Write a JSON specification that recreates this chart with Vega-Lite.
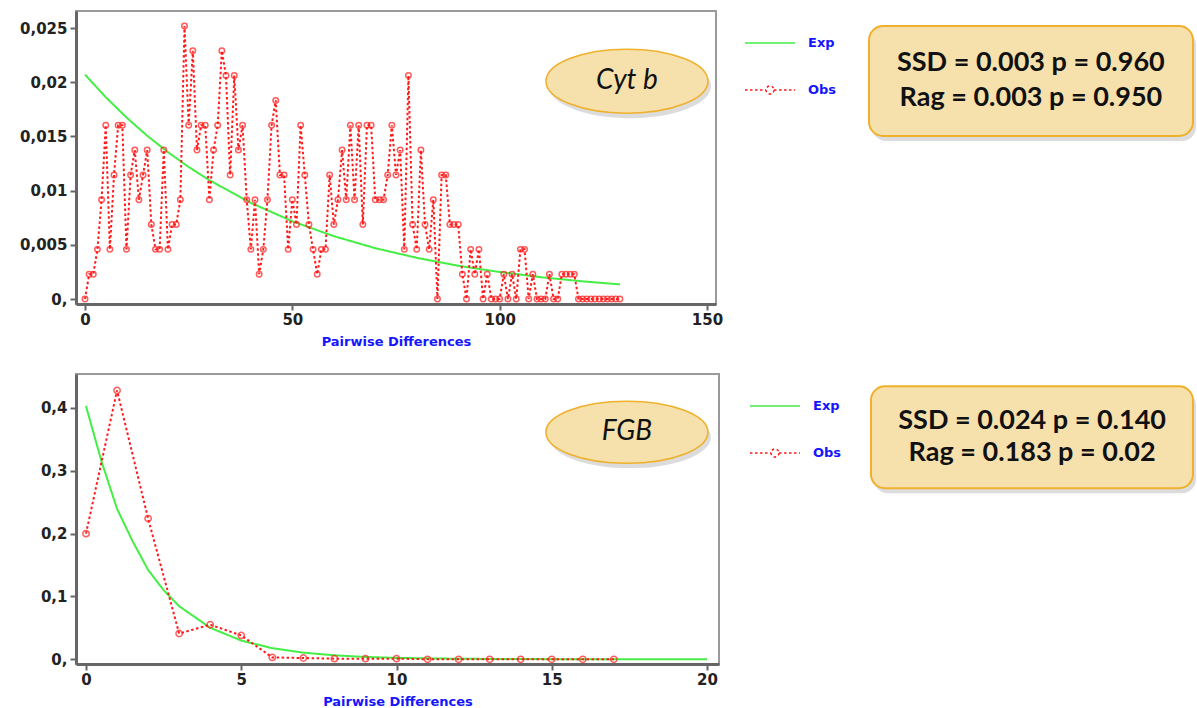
{
  "$schema": "https://vega.github.io/schema/vega-lite/v6.json",
  "padding": {"left": 5, "top": 10, "right": 0, "bottom": 0},
  "bounds": "flush",
  "spacing": 70,
  "background": "white",
  "config": {
    "view": {"stroke": "#9a9a9a", "strokeWidth": 2},
    "axis": {"grid": false, "labelFont": "DejaVu Sans", "labelFontWeight": "bold", "labelFontSize": 15, "labelColor": "#222222", "domainColor": "#666666", "domainWidth": 3, "tickColor": "#666666", "tickWidth": 2, "tickSize": 6, "titleFont": "DejaVu Sans", "titleFontWeight": "bold", "titleFontSize": 13, "titleColor": "#1515ff"},
    "axisY": {"minExtent": 70, "maxExtent": 70, "labelPadding": 3},
    "axisX": {"labelPadding": 2, "titlePadding": 8}
  },
  "resolve": {"scale": {"color": "independent", "strokeDash": "independent", "x": "independent", "y": "independent"}, "legend": {"color": "independent", "strokeDash": "independent"}},
  "datasets": {
    "cytb": [
      {"x":0,"y":0.0207,"series":"Exp"},{"x":5,"y":0.01862,"series":"Exp"},{"x":10,"y":0.01675,"series":"Exp"},{"x":15,"y":0.01506,"series":"Exp"},{"x":20,"y":0.01355,"series":"Exp"},{"x":25,"y":0.01218,"series":"Exp"},{"x":30,"y":0.01096,"series":"Exp"},{"x":40,"y":0.00887,"series":"Exp"},{"x":50,"y":0.00717,"series":"Exp"},{"x":60,"y":0.0058,"series":"Exp"},{"x":70,"y":0.00469,"series":"Exp"},{"x":80,"y":0.0038,"series":"Exp"},{"x":90,"y":0.00307,"series":"Exp"},{"x":100,"y":0.00249,"series":"Exp"},{"x":110,"y":0.00201,"series":"Exp"},{"x":120,"y":0.00163,"series":"Exp"},{"x":129,"y":0.00135,"series":"Exp"},
      {"x":0,"y":0,"series":"Obs"},{"x":1,"y":0.00229,"series":"Obs"},{"x":2,"y":0.00229,"series":"Obs"},{"x":3,"y":0.00458,"series":"Obs"},{"x":4,"y":0.00916,"series":"Obs"},{"x":5,"y":0.01603,"series":"Obs"},{"x":6,"y":0.00458,"series":"Obs"},{"x":7,"y":0.01145,"series":"Obs"},{"x":8,"y":0.01603,"series":"Obs"},{"x":9,"y":0.01603,"series":"Obs"},
      {"x":10,"y":0.00458,"series":"Obs"},{"x":11,"y":0.01145,"series":"Obs"},{"x":12,"y":0.01374,"series":"Obs"},{"x":13,"y":0.00916,"series":"Obs"},{"x":14,"y":0.01145,"series":"Obs"},{"x":15,"y":0.01374,"series":"Obs"},{"x":16,"y":0.00687,"series":"Obs"},{"x":17,"y":0.00458,"series":"Obs"},{"x":18,"y":0.00458,"series":"Obs"},{"x":19,"y":0.01374,"series":"Obs"},
      {"x":20,"y":0.00458,"series":"Obs"},{"x":21,"y":0.00687,"series":"Obs"},{"x":22,"y":0.00687,"series":"Obs"},{"x":23,"y":0.00916,"series":"Obs"},{"x":24,"y":0.02519,"series":"Obs"},{"x":25,"y":0.01603,"series":"Obs"},{"x":26,"y":0.0229,"series":"Obs"},{"x":27,"y":0.01374,"series":"Obs"},{"x":28,"y":0.01603,"series":"Obs"},{"x":29,"y":0.01603,"series":"Obs"},
      {"x":30,"y":0.00916,"series":"Obs"},{"x":31,"y":0.01374,"series":"Obs"},{"x":32,"y":0.01603,"series":"Obs"},{"x":33,"y":0.0229,"series":"Obs"},{"x":34,"y":0.02061,"series":"Obs"},{"x":35,"y":0.01145,"series":"Obs"},{"x":36,"y":0.02061,"series":"Obs"},{"x":37,"y":0.01374,"series":"Obs"},{"x":38,"y":0.01603,"series":"Obs"},{"x":39,"y":0.00916,"series":"Obs"},
      {"x":40,"y":0.00458,"series":"Obs"},{"x":41,"y":0.00916,"series":"Obs"},{"x":42,"y":0.00229,"series":"Obs"},{"x":43,"y":0.00458,"series":"Obs"},{"x":44,"y":0.00916,"series":"Obs"},{"x":45,"y":0.01603,"series":"Obs"},{"x":46,"y":0.01832,"series":"Obs"},{"x":47,"y":0.01145,"series":"Obs"},{"x":48,"y":0.01145,"series":"Obs"},{"x":49,"y":0.00458,"series":"Obs"},
      {"x":50,"y":0.00916,"series":"Obs"},{"x":51,"y":0.00687,"series":"Obs"},{"x":52,"y":0.01603,"series":"Obs"},{"x":53,"y":0.01145,"series":"Obs"},{"x":54,"y":0.00687,"series":"Obs"},{"x":55,"y":0.00458,"series":"Obs"},{"x":56,"y":0.00229,"series":"Obs"},{"x":57,"y":0.00458,"series":"Obs"},{"x":58,"y":0.00458,"series":"Obs"},{"x":59,"y":0.01145,"series":"Obs"},
      {"x":60,"y":0.00687,"series":"Obs"},{"x":61,"y":0.00916,"series":"Obs"},{"x":62,"y":0.01374,"series":"Obs"},{"x":63,"y":0.00916,"series":"Obs"},{"x":64,"y":0.01603,"series":"Obs"},{"x":65,"y":0.00916,"series":"Obs"},{"x":66,"y":0.01603,"series":"Obs"},{"x":67,"y":0.00687,"series":"Obs"},{"x":68,"y":0.01603,"series":"Obs"},{"x":69,"y":0.01603,"series":"Obs"},
      {"x":70,"y":0.00916,"series":"Obs"},{"x":71,"y":0.00916,"series":"Obs"},{"x":72,"y":0.00916,"series":"Obs"},{"x":73,"y":0.01145,"series":"Obs"},{"x":74,"y":0.01603,"series":"Obs"},{"x":75,"y":0.01145,"series":"Obs"},{"x":76,"y":0.01374,"series":"Obs"},{"x":77,"y":0.00458,"series":"Obs"},{"x":78,"y":0.02061,"series":"Obs"},{"x":79,"y":0.00687,"series":"Obs"},
      {"x":80,"y":0.00458,"series":"Obs"},{"x":81,"y":0.01374,"series":"Obs"},{"x":82,"y":0.00687,"series":"Obs"},{"x":83,"y":0.00458,"series":"Obs"},{"x":84,"y":0.00916,"series":"Obs"},{"x":85,"y":0,"series":"Obs"},{"x":86,"y":0.01145,"series":"Obs"},{"x":87,"y":0.01145,"series":"Obs"},{"x":88,"y":0.00687,"series":"Obs"},{"x":89,"y":0.00687,"series":"Obs"},
      {"x":90,"y":0.00687,"series":"Obs"},{"x":91,"y":0.00229,"series":"Obs"},{"x":92,"y":0,"series":"Obs"},{"x":93,"y":0.00458,"series":"Obs"},{"x":94,"y":0.00229,"series":"Obs"},{"x":95,"y":0.00458,"series":"Obs"},{"x":96,"y":0,"series":"Obs"},{"x":97,"y":0.00229,"series":"Obs"},{"x":98,"y":0,"series":"Obs"},{"x":99,"y":0,"series":"Obs"},
      {"x":100,"y":0,"series":"Obs"},{"x":101,"y":0.00229,"series":"Obs"},{"x":102,"y":0,"series":"Obs"},{"x":103,"y":0.00229,"series":"Obs"},{"x":104,"y":0,"series":"Obs"},{"x":105,"y":0.00458,"series":"Obs"},{"x":106,"y":0.00458,"series":"Obs"},{"x":107,"y":0,"series":"Obs"},{"x":108,"y":0.00229,"series":"Obs"},{"x":109,"y":0,"series":"Obs"},
      {"x":110,"y":0,"series":"Obs"},{"x":111,"y":0,"series":"Obs"},{"x":112,"y":0.00229,"series":"Obs"},{"x":113,"y":0,"series":"Obs"},{"x":114,"y":0,"series":"Obs"},{"x":115,"y":0.00229,"series":"Obs"},{"x":116,"y":0.00229,"series":"Obs"},{"x":117,"y":0.00229,"series":"Obs"},{"x":118,"y":0.00229,"series":"Obs"},{"x":119,"y":0,"series":"Obs"},
      {"x":120,"y":0,"series":"Obs"},{"x":121,"y":0,"series":"Obs"},{"x":122,"y":0,"series":"Obs"},{"x":123,"y":0,"series":"Obs"},{"x":124,"y":0,"series":"Obs"},{"x":125,"y":0,"series":"Obs"},{"x":126,"y":0,"series":"Obs"},{"x":127,"y":0,"series":"Obs"},{"x":128,"y":0,"series":"Obs"},{"x":129,"y":0,"series":"Obs"}
    ],
    "fgb": [
      {"x":0,"y":0.403,"series":"Exp"},{"x":0.5,"y":0.315,"series":"Exp"},{"x":1,"y":0.2395,"series":"Exp"},{"x":1.5,"y":0.188,"series":"Exp"},{"x":2,"y":0.1423,"series":"Exp"},{"x":2.5,"y":0.11,"series":"Exp"},{"x":3,"y":0.0845,"series":"Exp"},{"x":4,"y":0.0502,"series":"Exp"},{"x":5,"y":0.0298,"series":"Exp"},{"x":6,"y":0.0177,"series":"Exp"},{"x":7,"y":0.0106,"series":"Exp"},{"x":8,"y":0.0063,"series":"Exp"},{"x":9,"y":0.0037,"series":"Exp"},{"x":10,"y":0.0022,"series":"Exp"},{"x":12,"y":0.0008,"series":"Exp"},{"x":15,"y":0.0002,"series":"Exp"},{"x":20,"y":0,"series":"Exp"},
      {"x":0,"y":0.2,"series":"Obs"},{"x":1,"y":0.428,"series":"Obs"},{"x":2,"y":0.224,"series":"Obs"},{"x":3,"y":0.041,"series":"Obs"},{"x":4,"y":0.055,"series":"Obs"},{"x":5,"y":0.038,"series":"Obs"},{"x":6,"y":0.003,"series":"Obs"},{"x":7,"y":0.002,"series":"Obs"},{"x":8,"y":0.001,"series":"Obs"},{"x":9,"y":0.001,"series":"Obs"},{"x":10,"y":0.001,"series":"Obs"},{"x":11,"y":0,"series":"Obs"},{"x":12,"y":0,"series":"Obs"},{"x":13,"y":0,"series":"Obs"},{"x":14,"y":0,"series":"Obs"},{"x":15,"y":0,"series":"Obs"},{"x":16,"y":0,"series":"Obs"},{"x":17,"y":0,"series":"Obs"}
    ]
  },
  "vconcat": [
    {
      "width": 640, "height": 293,
      "data": {"name": "cytb"},
      "layer": [
        {
          "mark": {"type": "line", "strokeWidth": 2},
          "encoding": {
            "x": {"field": "x", "type": "quantitative", "scale": {"domain": [-2.17, 152.17], "nice": false, "zero": false}, "axis": {"values": [0, 50, 100, 150], "title": "Pairwise Differences"}},
            "y": {"field": "y", "type": "quantitative", "scale": {"domain": [-0.00046, 0.02657], "nice": false, "zero": false}, "axis": {"values": [0, 0.005, 0.01, 0.015, 0.02, 0.025], "title": null, "labelExpr": "datum.value == 0 ? '0,' : replace(format(datum.value, '~g'), '.', ',')"}},
            "color": {"field": "series", "type": "nominal", "scale": {"domain": ["Exp", "Obs"], "range": ["#44ee44", "#ff1a1a"]},
              "legend": {"orient": "none", "legendX": 668, "legendY": 6, "title": null, "symbolType": "stroke", "symbolSize": 2500, "symbolStrokeWidth": 1.5, "labelFont": "DejaVu Sans", "labelFontWeight": "bold", "labelFontSize": 13, "labelColor": "#1515ff", "rowPadding": 14, "labelOffset": 12, "padding": 0,
                "encode": {"symbols": {"update": {"shape": {"signal": "datum.value === 'Obs' ? 'M-1,0H-0.16M0.16,0H1M0.16,0A0.16,0.16,0,1,1,-0.16,0A0.16,0.16,0,1,1,0.16,0' : 'stroke'"}}}}}},
            "strokeDash": {"field": "series", "type": "nominal", "scale": {"domain": ["Exp", "Obs"], "range": [[1, 0], [2.5, 2.5]]},
              "legend": {"orient": "none", "legendX": 668, "legendY": 6, "title": null, "symbolType": "stroke", "symbolSize": 2500, "symbolStrokeWidth": 1.5, "labelFont": "DejaVu Sans", "labelFontWeight": "bold", "labelFontSize": 13, "labelColor": "#1515ff", "rowPadding": 14, "labelOffset": 12, "padding": 0}}
          }
        },
        {
          "transform": [{"filter": "datum.series == 'Obs'"}],
          "mark": {"type": "point", "shape": "circle", "filled": false, "color": "#ff1a1a", "size": 30, "strokeWidth": 1.5},
          "encoding": {"x": {"field": "x", "type": "quantitative"}, "y": {"field": "y", "type": "quantitative"}}
        },
        {
          "data": {"values": [{}]},
          "mark": {"type": "point", "shape": "M-1,0A1,0.395,0,1,1,1,0A1,0.395,0,1,1,-1,0Z", "size": 26244, "filled": true, "fill": "#9a9a9a", "opacity": 0.35, "strokeWidth": 0, "xOffset": 3, "yOffset": 5},
          "encoding": {"x": {"datum": 130.7}, "y": {"datum": 0.0201}}
        },
        {
          "data": {"values": [{}]},
          "mark": {"type": "point", "shape": "M-1,0A1,0.395,0,1,1,1,0A1,0.395,0,1,1,-1,0Z", "size": 26244, "filled": true, "fill": "#f6e1ad", "stroke": "#efb02c", "strokeWidth": 1.5, "opacity": 1},
          "encoding": {"x": {"datum": 130.7}, "y": {"datum": 0.0201}}
        },
        {
          "data": {"values": [{"t": "Cyt b"}]},
          "mark": {"type": "text", "font": "Lato", "fontStyle": "italic", "fontSize": 28, "color": "#111111", "align": "center", "baseline": "middle"},
          "encoding": {"x": {"datum": 130.7}, "y": {"datum": 0.0201}, "text": {"field": "t"}}
        },
        {
          "data": {"values": [{}]},
          "mark": {"type": "rect", "fill": "#9a9a9a", "opacity": 0.35, "cornerRadius": 14, "clip": false, "xOffset": 3, "yOffset": 5, "x2Offset": 3, "y2Offset": 5},
          "encoding": {"x": {"datum": 189.07}, "x2": {"datum": 267.2}, "y": {"datum": 0.025185}, "y2": {"datum": 0.015037}}
        },
        {
          "data": {"values": [{}]},
          "mark": {"type": "rect", "fill": "#f6e1ad", "stroke": "#efb02c", "strokeWidth": 2, "cornerRadius": 14, "clip": false},
          "encoding": {"x": {"datum": 189.07}, "x2": {"datum": 267.2}, "y": {"datum": 0.025185}, "y2": {"datum": 0.015037}}
        },
        {
          "data": {"values": [{"t": "SSD = 0.003 p = 0.960"}]},
          "mark": {"type": "text", "font": "Lato", "fontWeight": "bold", "fontSize": 27, "color": "#111111", "align": "center", "baseline": "middle", "clip": false},
          "encoding": {"x": {"datum": 228.1}, "y": {"datum": 0.02177}, "text": {"field": "t"}}
        },
        {
          "data": {"values": [{"t": "Rag = 0.003 p = 0.950"}]},
          "mark": {"type": "text", "font": "Lato", "fontWeight": "bold", "fontSize": 27, "color": "#111111", "align": "center", "baseline": "middle", "clip": false},
          "encoding": {"x": {"datum": 228.1}, "y": {"datum": 0.01854}, "text": {"field": "t"}}
        }
      ]
    },
    {
      "width": 643, "height": 290,
      "data": {"name": "fgb"},
      "layer": [
        {
          "mark": {"type": "line", "strokeWidth": 2},
          "encoding": {
            "x": {"field": "x", "type": "quantitative", "scale": {"domain": [-0.322, 20.386], "nice": false, "zero": false}, "axis": {"values": [0, 5, 10, 15, 20], "title": "Pairwise Differences"}},
            "y": {"field": "y", "type": "quantitative", "scale": {"domain": [-0.0075, 0.4541], "nice": false, "zero": false}, "axis": {"values": [0, 0.05, 0.1, 0.15, 0.2, 0.25, 0.3, 0.35, 0.4, 0.45], "title": null, "labelExpr": "abs(datum.value * 10 - round(datum.value * 10)) > 0.01 ? '' : (datum.value == 0 ? '0,' : replace(format(datum.value, '~g'), '.', ','))"}},
            "color": {"field": "series", "type": "nominal", "scale": {"domain": ["Exp", "Obs"], "range": ["#44ee44", "#ff1a1a"]},
              "legend": {"orient": "none", "legendX": 673, "legendY": 6, "title": null, "symbolType": "stroke", "symbolSize": 2500, "symbolStrokeWidth": 1.5, "labelFont": "DejaVu Sans", "labelFontWeight": "bold", "labelFontSize": 13, "labelColor": "#1515ff", "rowPadding": 14, "labelOffset": 12, "padding": 0,
                "encode": {"symbols": {"update": {"shape": {"signal": "datum.value === 'Obs' ? 'M-1,0H-0.16M0.16,0H1M0.16,0A0.16,0.16,0,1,1,-0.16,0A0.16,0.16,0,1,1,0.16,0' : 'stroke'"}}}}}},
            "strokeDash": {"field": "series", "type": "nominal", "scale": {"domain": ["Exp", "Obs"], "range": [[1, 0], [2.5, 2.5]]},
              "legend": {"orient": "none", "legendX": 673, "legendY": 6, "title": null, "symbolType": "stroke", "symbolSize": 2500, "symbolStrokeWidth": 1.5, "labelFont": "DejaVu Sans", "labelFontWeight": "bold", "labelFontSize": 13, "labelColor": "#1515ff", "rowPadding": 14, "labelOffset": 12, "padding": 0}}
          }
        },
        {
          "transform": [{"filter": "datum.series == 'Obs'"}],
          "mark": {"type": "point", "shape": "circle", "filled": false, "color": "#ff1a1a", "size": 40, "strokeWidth": 1.5},
          "encoding": {"x": {"field": "x", "type": "quantitative"}, "y": {"field": "y", "type": "quantitative"}}
        },
        {
          "data": {"values": [{}]},
          "mark": {"type": "point", "shape": "M-1,0A1,0.383,0,1,1,1,0A1,0.383,0,1,1,-1,0Z", "size": 26244, "filled": true, "fill": "#9a9a9a", "opacity": 0.35, "strokeWidth": 0, "xOffset": 3, "yOffset": 5},
          "encoding": {"x": {"datum": 17.42}, "y": {"datum": 0.3614}}
        },
        {
          "data": {"values": [{}]},
          "mark": {"type": "point", "shape": "M-1,0A1,0.383,0,1,1,1,0A1,0.383,0,1,1,-1,0Z", "size": 26244, "filled": true, "fill": "#f6e1ad", "stroke": "#efb02c", "strokeWidth": 1.5, "opacity": 1},
          "encoding": {"x": {"datum": 17.42}, "y": {"datum": 0.3614}}
        },
        {
          "data": {"values": [{"t": "FGB"}]},
          "mark": {"type": "text", "font": "Lato", "fontStyle": "italic", "fontSize": 28, "color": "#111111", "align": "center", "baseline": "middle"},
          "encoding": {"x": {"datum": 17.42}, "y": {"datum": 0.3614}, "text": {"field": "t"}}
        },
        {
          "data": {"values": [{}]},
          "mark": {"type": "rect", "fill": "#9a9a9a", "opacity": 0.35, "cornerRadius": 14, "clip": false, "xOffset": 3, "yOffset": 5, "x2Offset": 3, "y2Offset": 5},
          "encoding": {"x": {"datum": 25.28}, "x2": {"datum": 35.65}, "y": {"datum": 0.4345}, "y2": {"datum": 0.2723}}
        },
        {
          "data": {"values": [{}]},
          "mark": {"type": "rect", "fill": "#f6e1ad", "stroke": "#efb02c", "strokeWidth": 2, "cornerRadius": 14, "clip": false},
          "encoding": {"x": {"datum": 25.28}, "x2": {"datum": 35.65}, "y": {"datum": 0.4345}, "y2": {"datum": 0.2723}}
        },
        {
          "data": {"values": [{"t": "SSD = 0.024 p = 0.140"}]},
          "mark": {"type": "text", "font": "Lato", "fontWeight": "bold", "fontSize": 27, "color": "#111111", "align": "center", "baseline": "middle", "clip": false},
          "encoding": {"x": {"datum": 30.47}, "y": {"datum": 0.3789}, "text": {"field": "t"}}
        },
        {
          "data": {"values": [{"t": "Rag = 0.183 p = 0.02"}]},
          "mark": {"type": "text", "font": "Lato", "fontWeight": "bold", "fontSize": 27, "color": "#111111", "align": "center", "baseline": "middle", "clip": false},
          "encoding": {"x": {"datum": 30.47}, "y": {"datum": 0.328}, "text": {"field": "t"}}
        }
      ]
    }
  ]
}
